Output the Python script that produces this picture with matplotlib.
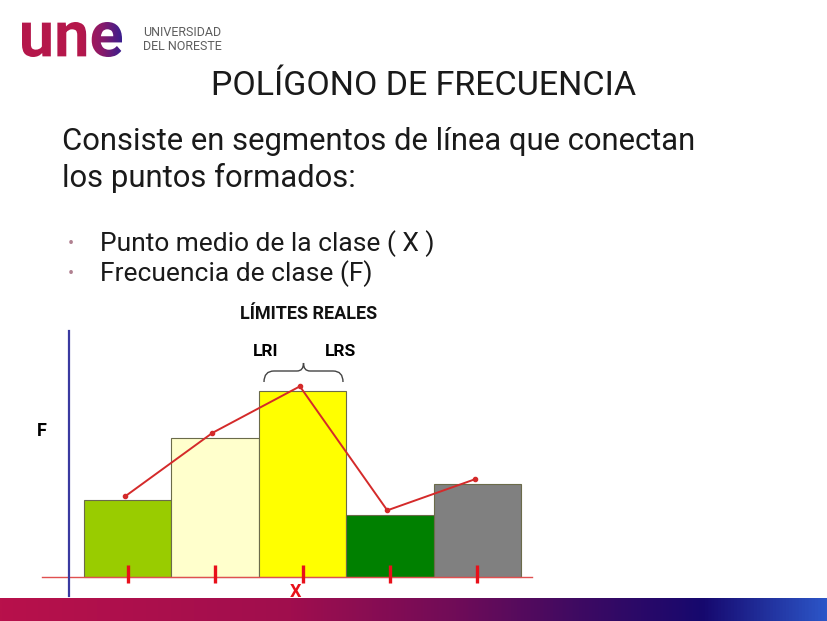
import numpy as np
import matplotlib
matplotlib.use("Agg")
import matplotlib.pyplot as plt
from matplotlib.colors import LinearSegmentedColormap
from matplotlib.textpath import TextPath
from matplotlib.patches import PathPatch
from matplotlib.font_manager import FontProperties
from matplotlib.path import Path
from matplotlib.transforms import Affine2D

plt.rcParams['font.family'] = ['Roboto', 'DejaVu Sans']

# datos del histograma
frecuencias = [5, 9, 12, 4, 6]
poligono_f = [5.2, 9.3, 12.3, 4.3, 6.3]
colores = ["#99cc00", "#ffffcc", "#ffff00", "#008000", "#808080"]

titulo = "POLÍGONO DE FRECUENCIA"
texto = "Consiste en segmentos de línea que conectan\nlos puntos formados:"
vinetas = ["Punto medio de la clase ( X )", "Frecuencia de clase (F)"]

W, H = 828, 621
fig = plt.figure(figsize=(8.28, 6.21), dpi=100)

# ejes del grafico (1 clase = 87.4 px, 1 unidad F = 15.5 px)
ax = fig.add_axes([0, 0, 1, 1])
ax.set_xlim(-84 / 87.4, (W - 84) / 87.4)
ax.set_ylim(-(H - 577) / 15.5, 577 / 15.5)
ax.axis('off')

x = np.arange(len(frecuencias)) + 0.5
ax.bar(x, frecuencias, width=1.0, color=colores, edgecolor="#6b6b4a", linewidth=0.8, zorder=2)
ax.plot(x - 0.03, poligono_f, color="#d42a2a", lw=1.4, marker="o", ms=3, zorder=4)
ax.plot([-0.48, 5.13], [0, 0], color="#e05050", lw=1, zorder=3)
ax.vlines(x, -0.39, 0.77, color="#e8101a", lw=2.4, zorder=5)
ax.plot([-0.176, -0.176], [-1.23, 15.9], color="#3a3aa0", lw=1.6, zorder=3)

# capa de la diapositiva en pixeles
ov = fig.add_axes([0, 0, 1, 1], facecolor='none')

banda = LinearSegmentedColormap.from_list("banda", [
    (0, "#b8114b"), (0.35, "#a00e4e"), (0.55, "#700c58"),
    (0.7, "#3e0a62"), (0.85, "#16086e"), (1, "#2c56c8")])
grad = np.linspace(0, 1, 512).reshape(1, -1)
ov.imshow(grad, cmap=banda, extent=[0, W, H, 598], aspect='auto', zorder=1)

# logo
logo_cmap = LinearSegmentedColormap.from_list("logo", [
    (0, "#b5174b"), (0.6, "#b5174b"), (0.8, "#8a1a6a"), (1, "#3a1e8e")])
tp = TextPath((0, 0), "une", size=60, prop=FontProperties(family='Roboto', weight='bold'))
bb = tp.get_extents()
sx = 100 / bb.width
sy = 35 / bb.height
tr = Affine2D().translate(-bb.x0, -bb.y0).scale(sx, -sy).translate(22, 57)
patch = PathPatch(tr.transform_path(tp), facecolor='none', edgecolor='none')
ov.add_patch(patch)
img = ov.imshow(grad, cmap=logo_cmap, extent=[22, 122, 57, 22], aspect='auto', zorder=2)
img.set_clip_path(patch)
ov.text(143, 33, "UNIVERSIDAD", fontsize=9, color="#5e5e5e", va='center')
ov.text(143, 47, "DEL NORESTE", fontsize=9, color="#5e5e5e", va='center')

ov.text(424, 86, titulo, ha='center', va='center', fontsize=24.5, color="#1a1a1a")
ov.text(62, 160, texto, ha='left', va='center', fontsize=22.3, linespacing=1.3, color="#1a1a1a")
for i, v in enumerate(vinetas):
    yy = 244 + i * 30
    ov.text(71, yy, "•", ha='center', va='center', fontsize=13, color="#b08090")
    ov.text(100, yy, v, ha='left', va='center', fontsize=19, color="#1a1a1a")

narrow = ['Liberation Sans Narrow', 'Roboto', 'DejaVu Sans']
ov.text(309, 314, "LÍMITES REALES", ha='center', va='center', fontsize=13,
        fontweight='bold', family=narrow, color="#111111")
ov.text(266, 352, "LRI", ha='center', va='center', fontsize=12.5, fontweight='bold', family=narrow)
ov.text(341, 352, "LRS", ha='center', va='center', fontsize=12.5, fontweight='bold', family=narrow)
ov.text(42, 431, "F", ha='center', va='center', fontsize=13, fontweight='bold', family=narrow)
ov.text(296, 592, "X", ha='center', va='center', fontsize=13, fontweight='bold',
        family=narrow, color="#e8101a", zorder=6)

# llave sobre la clase central
M, C, L = Path.MOVETO, Path.CURVE3, Path.LINETO
verts = [(264, 382), (264, 371), (274, 371), (297, 371), (303.5, 371), (303.5, 363),
         (303.5, 371), (310, 371), (333, 371), (343, 371), (343, 382)]
codes = [M, C, C, L, C, C, C, C, L, C, C]
ov.add_patch(PathPatch(Path(verts, codes), facecolor='none', edgecolor="#444444", lw=1))

ov.set_xlim(0, W)
ov.set_ylim(H, 0)
ov.axis('off')

fig.savefig("out.png", dpi=100)
